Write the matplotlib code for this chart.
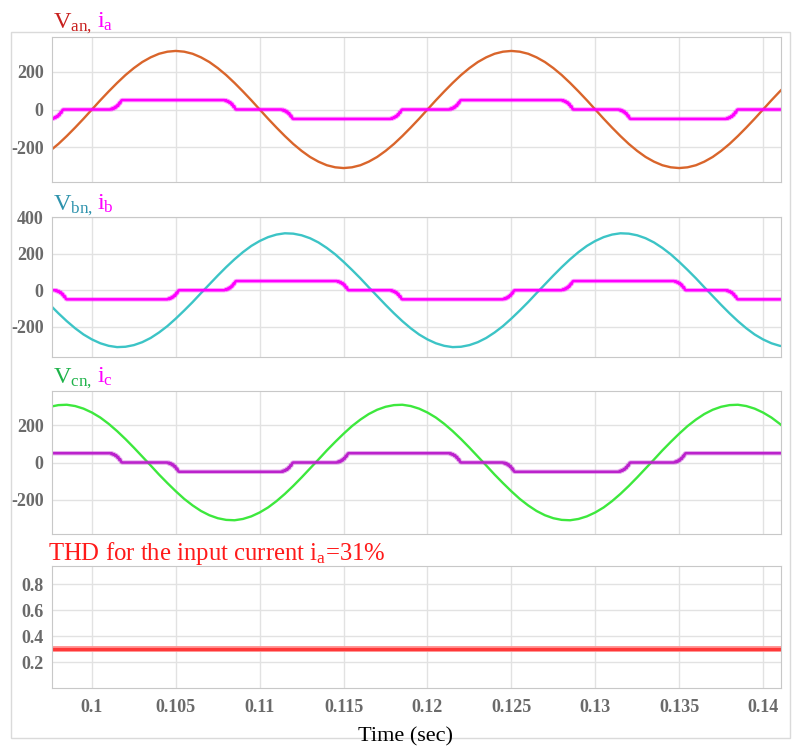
import numpy as np
import matplotlib
matplotlib.use('Agg')
import matplotlib.pyplot as plt
from matplotlib.patches import Rectangle

plt.rcParams['font.family'] = 'Liberation Serif'
plt.rcParams['mathtext.fontset'] = 'custom'
plt.rcParams['mathtext.rm'] = 'Liberation Serif'
plt.rcParams['mathtext.it'] = 'Liberation Serif:italic'
plt.rcParams['axes.unicode_minus'] = False

# ---- data ----
# phase voltages, sampled every 0.5 ms from 0.097 s to 0.142 s
t_volt = np.round(np.arange(0.097, 0.14225, 0.0005), 4)
v_an = [-252, -220, -183, -141, -96, -49, 0, 49, 96, 141, 183, 220, 252, 277,
        296, 307, 311, 307, 296, 277, 252, 220, 183, 141, 96, 49, 0, -49, -96,
        -141, -183, -220, -252, -277, -296, -307, -311, -307, -296, -277,
        -252, -220, -183, -141, -96, -49, 0, 49, 96, 141, 183, 220, 252, 277,
        296, 307, 311, 307, 296, 277, 252, 220, 183, 141, 96, 49, 0, -49, -96,
        -141, -183, -220, -252, -277, -296, -307, -311, -307, -296, -277,
        -252, -220, -183, -141, -96, -49, 0, 49, 96, 141, 183]
v_bn = [-32, -80, -126, -169, -208, -242, -269, -290, -304, -311, -309, -300,
        -284, -261, -231, -196, -155, -111, -65, -16, 32, 80, 126, 169, 208,
        242, 269, 290, 304, 311, 309, 300, 284, 261, 231, 196, 155, 111, 65, 16,
        -32, -80, -126, -169, -208, -242, -269, -290, -304, -311, -309, -300,
        -284, -261, -231, -196, -155, -111, -65, -16, 32, 80, 126, 169, 208,
        242, 269, 290, 304, 311, 309, 300, 284, 261, 231, 196, 155, 111, 65, 16,
        -32, -80, -126, -169, -208, -242, -269, -290, -304, -311, -309]
v_cn = [284, 300, 309, 311, 304, 290, 269, 242, 208, 169, 126, 80, 32, -16,
        -65, -111, -155, -196, -231, -261, -284, -300, -309, -311, -304, -290,
        -269, -242, -208, -169, -126, -80, -32, 16, 65, 111, 155, 196, 231, 261,
        284, 300, 309, 311, 304, 290, 269, 242, 208, 169, 126, 80, 32, -16,
        -65, -111, -155, -196, -231, -261, -284, -300, -309, -311, -304, -290,
        -269, -242, -208, -169, -126, -80, -32, 16, 65, 111, 155, 196, 231, 261,
        284, 300, 309, 311, 304, 290, 269, 242, 208, 169, 126]

# input currents: start level, then commutation start times and new levels
ia_start = -50
ia_steps_t = [0.0976, 0.1011, 0.1079, 0.1113, 0.1178, 0.1213, 0.1280, 0.1314, 0.1378]
ia_steps_v = [0, 50, 0, -50, 0, 50, 0, -50, 0]
ib_start = 0
ib_steps_t = [0.0978, 0.1045, 0.1079, 0.1146, 0.1178, 0.1245, 0.1280, 0.1347, 0.1378]
ib_steps_v = [-50, 0, 50, 0, -50, 0, 50, 0, -50]
ic_start = 50
ic_steps_t = [0.1011, 0.1045, 0.1113, 0.1146, 0.1213, 0.1245, 0.1314, 0.1347]
ic_steps_v = [0, -50, 0, 50, 0, -50, 0, 50]
# shape of one commutation (fraction of time, fraction of the step)
ramp_dur = 0.0007
ramp_ft = [0, 0.1, 0.16, 0.26, 0.33, 0.42, 0.5, 0.6, 0.67, 0.76, 0.84, 0.92, 1.0]
ramp_fv = [0, 0.1, 0.02, 0.18, 0.1, 0.3, 0.22, 0.48, 0.4, 0.72, 0.66, 0.95, 1.0]

# THD of ia
thd_t = [0.0975, 0.1415]
thd_v = [0.30, 0.30]

xticks = [0.1, 0.105, 0.11, 0.115, 0.12, 0.125, 0.13, 0.135, 0.14]
xtick_labels = ['0.1', '0.105', '0.11', '0.115', '0.12', '0.125', '0.13', '0.135', '0.14']


def build_current(start, steps_t, steps_v, t0=0.0975, t1=0.1415):
    ts, vs = [t0], [start]
    prev = start
    for ts0, new in zip(steps_t, steps_v):
        for ft, fv in zip(ramp_ft, ramp_fv):
            ts.append(ts0 + ft * ramp_dur)
            vs.append(prev + (new - prev) * fv)
        prev = new
    ts.append(t1)
    vs.append(prev)
    return ts, vs


W, H = 793, 752
fig = plt.figure(figsize=(W / 100, H / 100), dpi=100)


def px_axes(x0, y0, x1, y1):
    return fig.add_axes([x0 / W, 1 - y1 / H, (x1 - x0) / W, (y1 - y0) / H])


boxes = [(52, 37, 781, 182), (52, 217, 781, 357), (52, 391, 781, 534), (52, 566, 781, 688)]
ylims = [(-385, 385), (-365, 400), (-385, 385), (0, 0.94)]
yticks = [[-200, 0, 200], [-200, 0, 200, 400], [-200, 0, 200], [0.2, 0.4, 0.6, 0.8]]
xlim = (0.09762, 0.14107)

axes = [px_axes(*b) for b in boxes]
for ax, yl, yt in zip(axes, ylims, yticks):
    ax.set_xlim(*xlim)
    ax.set_ylim(*yl)
    ax.set_yticks(yt)
    ax.set_xticks(xticks)
    ax.grid(True, color='#e2e2e2', lw=1)
    ax.set_axisbelow(True)
    for s in ax.spines.values():
        s.set_color('#c8c8c8')
    ax.tick_params(length=0, pad=6, labelsize=13, labelcolor='#6a6a6a')
    for lab in ax.get_yticklabels():
        lab.set_fontweight('bold')

for ax in axes[:3]:
    ax.set_xticklabels([])
axes[3].set_xticks(xticks, labels=xtick_labels)
for lab in axes[3].get_xticklabels():
    lab.set_fontweight('bold')
axes[3].tick_params(axis='x', pad=8)

volts = [v_an, v_bn, v_cn]
vcols = ['#d9652b', '#3cc4c6', '#3de83d']
currents = [(ia_start, ia_steps_t, ia_steps_v), (ib_start, ib_steps_t, ib_steps_v),
            (ic_start, ic_steps_t, ic_steps_v)]
icols = ['#ff00ff', '#ff00ff', '#bb22cc']
for ax, v, vc, cur, ic in zip(axes[:3], volts, vcols, currents, icols):
    ax.plot(t_volt, v, color=vc, lw=1.7)
    ts, vs = build_current(*cur)
    ax.plot(ts, vs, color=ic, lw=3.2, alpha=0.35)
    ax.plot(ts, vs, color=ic, lw=1.8)

axes[3].plot(thd_t, thd_v, color='#ff9090', lw=4.2)
axes[3].plot(thd_t, thd_v, color='#ff3838', lw=2.2)

# panel titles
titles = [
    (28, [('V$_{\\mathrm{an,}}$', '#c8201e'), ('i$_{\\mathrm{a}}$', '#ff00ff')]),
    (210, [('V$_{\\mathrm{bn,}}$', '#2e93ad'), ('i$_{\\mathrm{b}}$', '#ff00ff')]),
    (383, [('V$_{\\mathrm{cn,}}$', '#1fb34a'), ('i$_{\\mathrm{c}}$', '#ff00ff')]),
]
for y, parts in titles:
    fig.text(53 / W, 1 - y / H, parts[0][0], color=parts[0][1], fontsize=17.5, va='baseline')
    fig.text(97 / W, 1 - y / H, parts[1][0], color=parts[1][1], fontsize=17.5, va='baseline')

fig.text(48 / W, 1 - 560 / H, 'THD for the input current i$_{\\mathrm{a}}$=31%',
         color='#ff1a1a', fontsize=17.8, va='baseline')
fig.text(405 / W, 1 - 737 / H, 'Time (sec)', ha='center', va='center', fontsize=16)

fig.add_artist(Rectangle((11 / W, 1 - 738 / H), (790 - 11) / W, (738 - 32) / H,
                         transform=fig.transFigure, fill=False, ec='#dadada', lw=1))

fig.savefig('out.png', dpi=100)
